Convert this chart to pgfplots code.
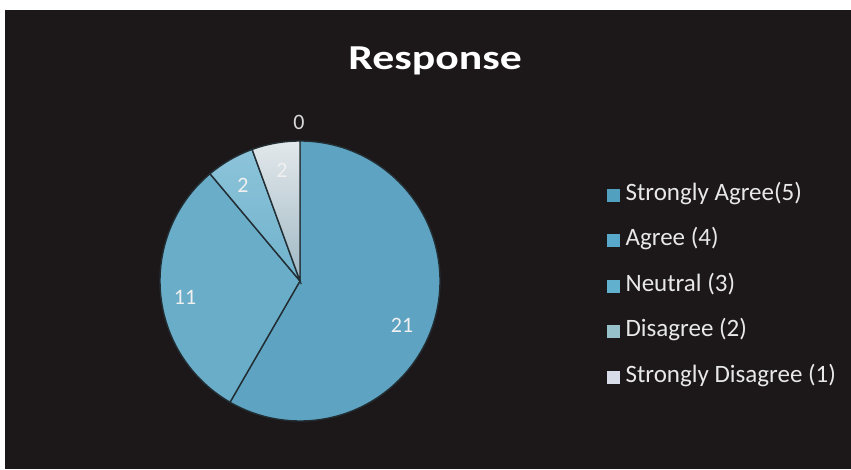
\documentclass[border=0pt]{standalone}
\usepackage{pgfplots}
\pgfplotsset{compat=1.18}
\usepackage{pgfplotstable}
\usepackage{fontspec}
\setmainfont{Carlito}

\definecolor{bg}{RGB}{28,23,24}
\definecolor{sep}{RGB}{34,46,52}
\definecolor{cSA}{RGB}{94,164,194}
\definecolor{cA}{RGB}{106,173,201}
\definecolor{cNtop}{RGB}{140,196,218}
\definecolor{cNbot}{RGB}{112,178,204}
\definecolor{cDtop}{RGB}{226,232,235}
\definecolor{cDbot}{RGB}{160,184,196}
\definecolor{mSA}{RGB}{82,160,192}
\definecolor{mA}{RGB}{88,168,204}
\definecolor{mN}{RGB}{96,176,206}
\definecolor{mD}{RGB}{150,192,202}
\definecolor{mSD}{RGB}{216,220,232}
\definecolor{legtxt}{RGB}{232,232,232}

% responses, clockwise from 12 o'clock
\pgfplotstableread{
cat value
5 21
4 11
3 2
2 2
1 0
}\resp

\pgfplotsset{sq/.style={legend image code/.code={\fill[#1] (0.5pt,-6pt) rectangle (12.5pt,6pt);}}}

\begin{document}
\begin{tikzpicture}
\pgfplotstablegetelem{0}{value}\of\resp \let\vSA\pgfplotsretval
\pgfplotstablegetelem{1}{value}\of\resp \let\vA\pgfplotsretval
\pgfplotstablegetelem{2}{value}\of\resp \let\vN\pgfplotsretval
\pgfplotstablegetelem{3}{value}\of\resp \let\vD\pgfplotsretval
\pgfplotstablegetelem{4}{value}\of\resp \let\vSD\pgfplotsretval
\pgfmathsetmacro\tot{\vSA+\vA+\vN+\vD+\vSD}
\pgfmathsetmacro\eSA{90-360*\vSA/\tot}
\pgfmathsetmacro\eA{\eSA-360*\vA/\tot}
\pgfmathsetmacro\eN{\eA-360*\vN/\tot}
\pgfmathsetmacro\eD{\eN-360*\vD/\tot}

\fill[white] (0,0) rectangle (851pt,469pt);
\fill[bg] (5pt,0) rectangle (851pt,459pt);

\begin{axis}[
    scale only axis,
    width=851pt, height=469pt,
    xmin=0, xmax=851, ymin=0, ymax=469,
    disabledatascaling,
    hide axis, clip=false,
    legend cell align=left,
    legend style={draw=none, fill=none, text=legtxt,
        font=\fontsize{25}{30}\selectfont,
        at={(axis cs:607,286)}, anchor=north west,
        inner sep=0pt, row sep=22.5pt,
        nodes={inner sep=0pt, text height=17pt, text depth=6pt},
        /tikz/every odd column/.append style={column sep=6pt}},
    ]
\fill[cSA, draw=sep, line width=1.4pt] (axis cs:300,188) -- ++(90:140pt)
    arc[start angle=90, end angle=\eSA, radius=140pt] -- cycle;
\fill[cA, draw=sep, line width=1.4pt] (axis cs:300,188) -- ++(\eSA:140pt)
    arc[start angle=\eSA, end angle=\eA, radius=140pt] -- cycle;
\shadedraw[top color=cNtop, bottom color=cNbot, draw=sep, line width=1.4pt] (axis cs:300,188) -- ++(\eA:140pt)
    arc[start angle=\eA, end angle=\eN, radius=140pt] -- cycle;
\shadedraw[top color=cDtop, bottom color=cDbot, draw=sep, line width=1.4pt] (axis cs:300,188) -- ++(\eN:140pt)
    arc[start angle=\eN, end angle=\eD, radius=140pt] -- cycle;

\node[font=\fontsize{35}{40}\selectfont\bfseries, text=white, anchor=base]
    at (axis cs:435,399) {\scalebox{1.25}[1]{Response}};

\begin{scope}[every node/.style={font=\fontsize{22}{26}\selectfont, text=white!94!black}]
\node at (axis cs:402,144) {\vSA};
\node at (axis cs:185,172) {\vA};
\node at (axis cs:243,284) {\vN};
\node at (axis cs:282,299) {\vD};
\node[text=white!85!black] at (axis cs:299,347) {\vSD};
\end{scope}

\addlegendimage{sq=mSA}\addlegendentry{Strongly Agree(5)}
\addlegendimage{sq=mA}\addlegendentry{Agree (4)}
\addlegendimage{sq=mN}\addlegendentry{Neutral (3)}
\addlegendimage{sq=mD}\addlegendentry{Disagree (2)}
\addlegendimage{sq=mSD}\addlegendentry{Strongly Disagree (1)}
\end{axis}
\end{tikzpicture}
\end{document}
